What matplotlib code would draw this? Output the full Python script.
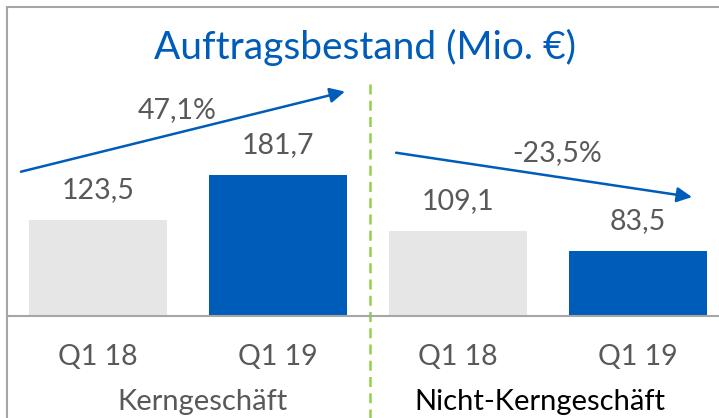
import matplotlib.pyplot as plt
from matplotlib.patches import Rectangle

# daten
quartale = ["Q1 18", "Q1 19", "Q1 18", "Q1 19"]
werte = [123.5, 181.7, 109.1, 83.5]
segmente = ["Kerngeschäft", "Nicht-Kerngeschäft"]
titel = "Auftragsbestand (Mio. €)"

grau = "#E6E6E6"
blau = "#005CB9"
farben = [grau, blau, grau, blau]
textgrau = "#595959"

plt.rcParams['font.family'] = ['Lato', 'DejaVu Sans']

fig = plt.figure(figsize=(7.19, 4.18), dpi=100)
# achse rechts ueber den rand hinaus, wie im original
ax = fig.add_axes([8/719, 102/418, 720/719, 276/418])
ax.set_xlim(-0.5, 3.5)
ax.set_ylim(0, 355)

x = list(range(len(werte)))
bars = ax.bar(x, werte, width=0.767, color=farben)

for xi, w in zip(x, werte):
    ax.annotate(f"{w:.1f}".replace(".", ","), (xi, w), xytext=(0, 21.5),
                textcoords="offset points", ha="center", va="center",
                fontsize=20.5, color=textgrau)

ax.set_xticks(x)
ax.set_xticklabels(quartale, fontsize=20.5, color=textgrau)
ax.tick_params(axis="x", length=0, pad=20)
ax.set_yticks([])
for s in ["top", "left", "right"]:
    ax.spines[s].set_visible(False)
ax.spines["bottom"].set_color("#A6A6A6")
ax.spines["bottom"].set_linewidth(1.5)

# segmentnamen
ax.text(0.583, -0.31, segmente[0], transform=ax.get_xaxis_transform(),
        ha="center", va="center", fontsize=21, color=textgrau)
ax.text(2.456, -0.31, segmente[1], transform=ax.get_xaxis_transform(),
        ha="center", va="center", fontsize=21, color="black")

# trennlinie
ax.vlines(1.51, -140, 305, colors="#92D050", linestyles=(0, (4, 2.5)),
          linewidth=1.8, clip_on=False)

# veraenderungspfeile
pfeile = [((-0.428, 185.6), (1.372, 288.7)), ((1.656, 210), (3.3, 153))]
aenderung = [werte[1] / werte[0] - 1, werte[3] / werte[2] - 1]
text_pos = [(0.44, 265), (2.55, 209)]
for (a, b), d, tp in zip(pfeile, aenderung, text_pos):
    ax.annotate("", xy=b, xytext=a,
                arrowprops=dict(arrowstyle="-|>,head_length=0.9,head_width=0.45",
                                color=blau, lw=1.8, shrinkA=0, shrinkB=0),
                annotation_clip=False)
    ax.text(tp[0], tp[1], f"{d*100:.1f}%".replace(".", ","), ha="center",
            va="center", fontsize=20.5, color=textgrau)

fig.text(365/719, 1 - 47/418, titel, ha="center", va="center",
         fontsize=28, color=blau)

# rahmen
fig.patches.append(Rectangle((7/719, -0.1), 1.2, 1 - 7/418 + 0.1,
                             transform=fig.transFigure, fill=False,
                             edgecolor="#A6A6A6", linewidth=1.5))

fig.savefig("out.png", dpi=100)
